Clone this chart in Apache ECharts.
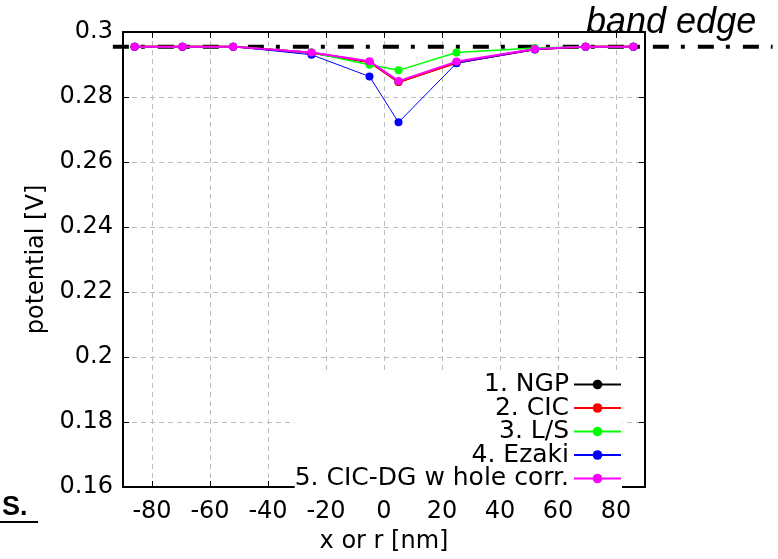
<!DOCTYPE html>
<html>
<head>
<meta charset="utf-8">
<script src="https://cdn.jsdelivr.net/npm/echarts@6/dist/echarts.min.js"></script>
<style>
html,body{margin:0;padding:0;background:#fff;}
#chart{width:778px;height:559px;}
</style>
</head>
<body>
<div id="chart"></div>
<script>
// ---- data ----
const xValues = [-86, -69.5, -52, -25, -5, 5, 25, 52, 69.5, 86];
const ngpValues = [0.2955, 0.2955, 0.2955, 0.2936, 0.2908, 0.2846, 0.2906, 0.2947, 0.2955, 0.2955];
const cicValues = [0.2955, 0.2955, 0.2955, 0.2936, 0.2908, 0.2846, 0.2905, 0.2947, 0.2955, 0.2955];
const lsValues = [0.2955, 0.2955, 0.2955, 0.2937, 0.2899, 0.2882, 0.2937, 0.2951, 0.2955, 0.2955];
const ezakiValues = [0.2955, 0.2955, 0.2955, 0.2930, 0.2863, 0.2722, 0.2904, 0.2946, 0.2955, 0.2955];
const cicdgValues = [0.2955, 0.2955, 0.2955, 0.2937, 0.2910, 0.2849, 0.2909, 0.2948, 0.2955, 0.2955];
const seriesNames = ['1. NGP', '2. CIC', '3. L/S', '4. Ezaki', '5. CIC-DG w hole corr.'];
const seriesColors = ['#000000', '#ff0000', '#00ff00', '#0000ff', '#ff00ff'];
const xTicks = [-80, -60, -40, -20, 0, 20, 40, 60, 80];
const xRange = [-90, 90];
const yRange = [0.16, 0.3];
const yStep = 0.02;
const bandEdge = 0.2955;
const bandEdgeSpan = [-93.5, 134];
const bandEdgeLabel = 'band edge';
const xName = 'x or r [nm]';
const yName = 'potential [V]';
const cornerText = 'S.';

const FONT = 'DejaVu Sans';
const allValues = [ngpValues, cicValues, lsValues, ezakiValues, cicdgValues];
const lineWidths = [2, 2, 1.5, 1, 2];

const chart = echarts.init(document.getElementById('chart'), null, {renderer: 'canvas'});

const boxAxisX = (pos) => ({
  type: 'value', min: xRange[0], max: xRange[1], position: pos,
  axisLine: {show: true, onZero: false, lineStyle: {color: '#000', width: 2}},
  axisTick: {show: true, inside: true, length: 6, customValues: xTicks, lineStyle: {color: '#000', width: 1}},
  axisLabel: {show: pos === 'bottom', customValues: xTicks, fontFamily: FONT, fontSize: 24, color: '#000', margin: 13},
  splitLine: {show: pos === 'bottom', lineStyle: {type: [5, 4], color: '#bdbdbd', width: 1}},
  name: pos === 'bottom' ? xName : '',
  nameLocation: 'middle', nameGap: 43,
  nameTextStyle: {fontFamily: FONT, fontSize: 24, color: '#000'}
});
const boxAxisY = (pos) => ({
  type: 'value', min: yRange[0], max: yRange[1], interval: yStep, position: pos,
  axisLine: {show: true, onZero: false, lineStyle: {color: '#000', width: 2}},
  axisTick: {show: true, inside: true, length: 6, lineStyle: {color: '#000', width: 1}},
  axisLabel: {show: pos === 'left', fontFamily: FONT, fontSize: 24, color: '#000', margin: 10},
  splitLine: {show: pos === 'left', lineStyle: {type: [5, 4], color: '#bdbdbd', width: 1}},
  name: pos === 'left' ? yName : '',
  nameLocation: 'middle', nameGap: 72,
  nameTextStyle: {fontFamily: FONT, fontSize: 24, color: '#000'}
});

const series = seriesNames.map((name, i) => ({
  name: name,
  type: 'line',
  data: xValues.map((x, j) => [x, allValues[i][j]]),
  symbol: 'circle',
  symbolSize: 8,
  showSymbol: true,
  color: seriesColors[i],
  lineStyle: {color: seriesColors[i], width: lineWidths[i]},
  itemStyle: {color: seriesColors[i]},
  z: 3 + i,
  animation: false
}));

chart.setOption({
  animation: false,
  backgroundColor: '#fff',
  grid: {left: 123, right: 133, top: 32, bottom: 67, containLabel: false},
  xAxis: [boxAxisX('bottom'), boxAxisX('top')],
  yAxis: [boxAxisY('left'), boxAxisY('right')],
  legend: {
    orient: 'vertical', right: 156, bottom: 68, align: 'right',
    itemWidth: 47, itemHeight: 12, itemGap: -1.5,
    backgroundColor: '#fff', padding: [0, 0, 0, 0],
    textStyle: {fontFamily: FONT, fontSize: 25, lineHeight: 22, color: '#000'},
    data: seriesNames
  },
  series: series
});

function drawExtras() {
  const p0 = chart.convertToPixel({gridIndex: 0}, [bandEdgeSpan[0], bandEdge]);
  const p1 = chart.convertToPixel({gridIndex: 0}, [bandEdgeSpan[1], bandEdge]);
  chart.setOption({
    graphic: [
      {
        type: 'line', z: 2,
        shape: {x1: p0[0], y1: p0[1], x2: p1[0], y2: p1[1]},
        style: {stroke: '#000', lineWidth: 4, lineDash: [16, 12, 4, 13], lineCap: 'butt'}
      },
      {
        type: 'text', z: 60, left: 586, top: 5,
        style: {text: bandEdgeLabel, font: 'italic 36px "Liberation Sans"', fill: '#000'}
      },
      {
        type: 'text', z: 60, left: 2, top: 494,
        style: {text: cornerText, font: 'bold 27px "Liberation Sans"', fill: '#000'}
      },
      {
        type: 'line', z: 60,
        shape: {x1: 0, y1: 522, x2: 38, y2: 522},
        style: {stroke: '#000', lineWidth: 2}
      }
    ]
  });
}
drawExtras();
</script>
</body>
</html>
